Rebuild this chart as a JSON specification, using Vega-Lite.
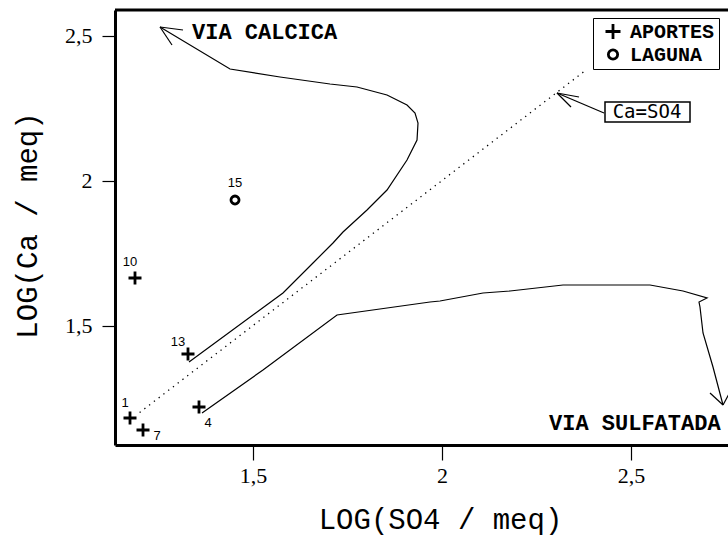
{
  "$schema": "https://vega.github.io/schema/vega-lite/v6.json",
  "width": 613,
  "height": 435,
  "autosize": {"type": "none"},
  "padding": {"left": 115, "top": 10, "right": 0, "bottom": 91},
  "background": "white",
  "config": {
    "view": {"stroke": null},
    "axis": {
      "grid": false,
      "domainColor": "black",
      "domainWidth": 3,
      "tickColor": "black",
      "tickWidth": 1.2,
      "labelFont": "Liberation Serif, Times New Roman, DejaVu Serif, serif",
      "labelFontSize": 22,
      "labelColor": "black",
      "titleFont": "Liberation Mono",
      "titleFontSize": 29,
      "titleFontWeight": "normal",
      "titleColor": "black"
    }
  },
  "datasets": {
    "pts": [
      {"x": 1.1746, "y": 1.1811, "tipo": "APORTES", "id": "1"},
      {"x": 1.2090, "y": 1.1397, "tipo": "APORTES", "id": "7"},
      {"x": 1.3571, "y": 1.2190, "tipo": "APORTES", "id": "4"},
      {"x": 1.3280, "y": 1.4018, "tipo": "APORTES", "id": "13"},
      {"x": 1.1878, "y": 1.6639, "tipo": "APORTES", "id": "10"},
      {"x": 1.4524, "y": 1.9328, "tipo": "LAGUNA", "id": "15"}
    ],
    "ptlabels": [
      {"x": 1.1614, "y": 1.2328, "txt": "1"},
      {"x": 1.2460, "y": 1.1190, "txt": "7"},
      {"x": 1.3809, "y": 1.1639, "txt": "4"},
      {"x": 1.3016, "y": 1.4432, "txt": "13"},
      {"x": 1.1746, "y": 1.7190, "txt": "10"},
      {"x": 1.4524, "y": 1.9914, "txt": "15"}
    ],
    "paths": [
      {"path": "calcica", "ord": 1, "x": 1.3307, "y": 1.3742},
      {"path": "calcica", "ord": 2, "x": 1.5793, "y": 1.6121},
      {"path": "calcica", "ord": 3, "x": 1.6587, "y": 1.7156},
      {"path": "calcica", "ord": 4, "x": 1.7116, "y": 1.7846},
      {"path": "calcica", "ord": 5, "x": 1.7381, "y": 1.8225},
      {"path": "calcica", "ord": 6, "x": 1.8016, "y": 1.8984},
      {"path": "calcica", "ord": 7, "x": 1.8545, "y": 1.9673},
      {"path": "calcica", "ord": 8, "x": 1.9074, "y": 2.0708},
      {"path": "calcica", "ord": 9, "x": 1.9339, "y": 2.1397},
      {"path": "calcica", "ord": 10, "x": 1.9365, "y": 2.1984},
      {"path": "calcica", "ord": 11, "x": 1.9286, "y": 2.2329},
      {"path": "calcica", "ord": 12, "x": 1.9074, "y": 2.2604},
      {"path": "calcica", "ord": 13, "x": 1.8545, "y": 2.2949},
      {"path": "calcica", "ord": 14, "x": 1.7751, "y": 2.3225},
      {"path": "calcica", "ord": 15, "x": 1.7037, "y": 2.3328},
      {"path": "calcica", "ord": 16, "x": 1.5714, "y": 2.3570},
      {"path": "calcica", "ord": 17, "x": 1.4392, "y": 2.3846},
      {"path": "calcica", "ord": 18, "x": 1.2540, "y": 2.5294},
      {"path": "calcica_b1", "ord": 1, "x": 1.2540, "y": 2.5294},
      {"path": "calcica_b1", "ord": 2, "x": 1.3148, "y": 2.5190},
      {"path": "calcica_b2", "ord": 1, "x": 1.2540, "y": 2.5294},
      {"path": "calcica_b2", "ord": 2, "x": 1.2857, "y": 2.4673},
      {"path": "sulf", "ord": 1, "x": 1.3651, "y": 1.1983},
      {"path": "sulf", "ord": 2, "x": 1.5264, "y": 1.3466},
      {"path": "sulf", "ord": 3, "x": 1.7222, "y": 1.5363},
      {"path": "sulf", "ord": 4, "x": 1.9682, "y": 1.5811},
      {"path": "sulf", "ord": 5, "x": 1.9947, "y": 1.5846},
      {"path": "sulf", "ord": 6, "x": 2.1085, "y": 1.6121},
      {"path": "sulf", "ord": 7, "x": 2.1799, "y": 1.6190},
      {"path": "sulf", "ord": 8, "x": 2.3201, "y": 1.6397},
      {"path": "sulf", "ord": 9, "x": 2.5503, "y": 1.6397},
      {"path": "sulf", "ord": 10, "x": 2.6376, "y": 1.6190},
      {"path": "sulf", "ord": 11, "x": 2.7011, "y": 1.5949},
      {"path": "sulf", "ord": 12, "x": 2.6799, "y": 1.5811},
      {"path": "sulf", "ord": 13, "x": 2.6825, "y": 1.5639},
      {"path": "sulf", "ord": 14, "x": 2.6905, "y": 1.4742},
      {"path": "sulf", "ord": 15, "x": 2.7169, "y": 1.3570},
      {"path": "sulf", "ord": 16, "x": 2.7434, "y": 1.2259},
      {"path": "sulf_b1", "ord": 1, "x": 2.7434, "y": 1.2259},
      {"path": "sulf_b1", "ord": 2, "x": 2.7090, "y": 1.2673},
      {"path": "sulf_b2", "ord": 1, "x": 2.7434, "y": 1.2259},
      {"path": "sulf_b2", "ord": 2, "x": 2.7619, "y": 1.2708},
      {"path": "caso4", "ord": 1, "x": 2.4286, "y": 2.2328},
      {"path": "caso4", "ord": 2, "x": 2.3042, "y": 2.3018},
      {"path": "caso4_b1", "ord": 1, "x": 2.3042, "y": 2.3018},
      {"path": "caso4_b1", "ord": 2, "x": 2.3624, "y": 2.2880},
      {"path": "caso4_b2", "ord": 1, "x": 2.3042, "y": 2.3018},
      {"path": "caso4_b2", "ord": 2, "x": 2.3413, "y": 2.2535}
    ],
    "diag": [
      {"x": 1.2, "y": 1.2},
      {"x": 2.381, "y": 2.381}
    ],
    "vias": [
      {"x": 1.3386, "y": 2.512, "txt": "VIA CALCICA"},
      {"x": 2.283, "y": 1.164, "txt": "VIA SULFATADA"}
    ],
    "box": [
      {"x": 2.4312, "x2": 2.6561, "y": 2.2708, "y2": 2.2018, "xm": 2.5423, "ym": 2.2363, "txt": "Ca=SO4"}
    ],
    "frame": [
      {"y": 2.588}
    ]
  },
  "layer": [
    {
      "data": {"name": "diag"},
      "mark": {"type": "line", "color": "black", "strokeWidth": 1.3, "strokeDash": [1.3, 4.7]},
      "encoding": {
        "x": {
          "field": "x", "type": "quantitative",
          "scale": {"domain": [1.1349, 2.7566], "nice": false, "zero": false},
          "axis": {
            "title": "LOG(SO4 / meq)",
            "values": [1.5, 2, 2.5],
            "labelExpr": "replace(format(datum.value, '~g'), '.', ',')",
            "tickSize": 15,
            "labelPadding": 5,
            "titleX": 325,
            "titleY": 74,
            "titleAlign": "center",
            "titleBaseline": "middle"
          }
        },
        "y": {
          "field": "y", "type": "quantitative",
          "scale": {"domain": [1.088, 2.588], "nice": false, "zero": false},
          "axis": {
            "title": "LOG(Ca / meq)",
            "values": [1.5, 2, 2.5],
            "labelExpr": "replace(format(datum.value, '~g'), '.', ',')",
            "tickSize": 13,
            "labelPadding": 10,
            "titleX": -88,
            "titleY": 215,
            "titleAngle": -90,
            "titleAlign": "center",
            "titleBaseline": "middle"
          }
        }
      }
    },
    {
      "data": {"name": "frame"},
      "mark": {"type": "rule", "color": "black", "strokeWidth": 3},
      "encoding": {
        "y": {"field": "y", "type": "quantitative"}
      }
    },
    {
      "data": {"name": "paths"},
      "mark": {"type": "line", "color": "black", "strokeWidth": 1.2},
      "encoding": {
        "x": {"field": "x", "type": "quantitative"},
        "y": {"field": "y", "type": "quantitative"},
        "detail": {"field": "path"},
        "order": {"field": "ord", "type": "quantitative"}
      }
    },
    {
      "data": {"name": "pts"},
      "mark": {"type": "point", "filled": false, "color": "black", "strokeWidth": 2.8, "opacity": 1, "size": 169},
      "encoding": {
        "x": {"field": "x", "type": "quantitative"},
        "y": {"field": "y", "type": "quantitative"},
        "shape": {
          "field": "tipo", "type": "nominal",
          "scale": {"domain": ["APORTES", "LAGUNA"], "range": ["M-1,0H1M0,-1V1", "M0.62,0A0.62,0.62 0 1,1 -0.62,0A0.62,0.62 0 1,1 0.62,0Z"]},
          "legend": {
            "title": null,
            "orient": "none",
            "legendX": 478,
            "legendY": 8,
            "strokeColor": "black",
            "padding": 4,
            "symbolOffset": 6,
            "symbolSize": 225,
            "symbolStrokeColor": "black",
            "symbolStrokeWidth": 2.8,
            "labelFont": "Liberation Mono",
            "labelFontWeight": "bold",
            "labelFontSize": 20,
            "labelColor": "black",
            "labelOffset": 7,
            "clipHeight": 19,
            "rowPadding": 2
          }
        }
      }
    },
    {
      "data": {"name": "ptlabels"},
      "mark": {"type": "text", "font": "Liberation Sans", "fontSize": 13, "color": "black", "align": "center", "baseline": "middle"},
      "encoding": {
        "x": {"field": "x", "type": "quantitative"},
        "y": {"field": "y", "type": "quantitative"},
        "text": {"field": "txt"}
      }
    },
    {
      "data": {"name": "vias"},
      "mark": {"type": "text", "font": "Liberation Mono", "fontWeight": "bold", "fontSize": 22, "color": "black", "align": "left", "baseline": "middle"},
      "encoding": {
        "x": {"field": "x", "type": "quantitative"},
        "y": {"field": "y", "type": "quantitative"},
        "text": {"field": "txt"}
      }
    },
    {
      "data": {"name": "box"},
      "mark": {"type": "rect", "fill": "white", "stroke": "black", "strokeWidth": 1.5},
      "encoding": {
        "x": {"field": "x", "type": "quantitative"},
        "x2": {"field": "x2"},
        "y": {"field": "y", "type": "quantitative"},
        "y2": {"field": "y2"}
      }
    },
    {
      "data": {"name": "box"},
      "mark": {"type": "text", "font": "DejaVu Sans Mono", "fontSize": 19, "color": "black", "align": "center", "baseline": "middle"},
      "encoding": {
        "x": {"field": "xm", "type": "quantitative"},
        "y": {"field": "ym", "type": "quantitative"},
        "text": {"field": "txt"}
      }
    }
  ]
}
